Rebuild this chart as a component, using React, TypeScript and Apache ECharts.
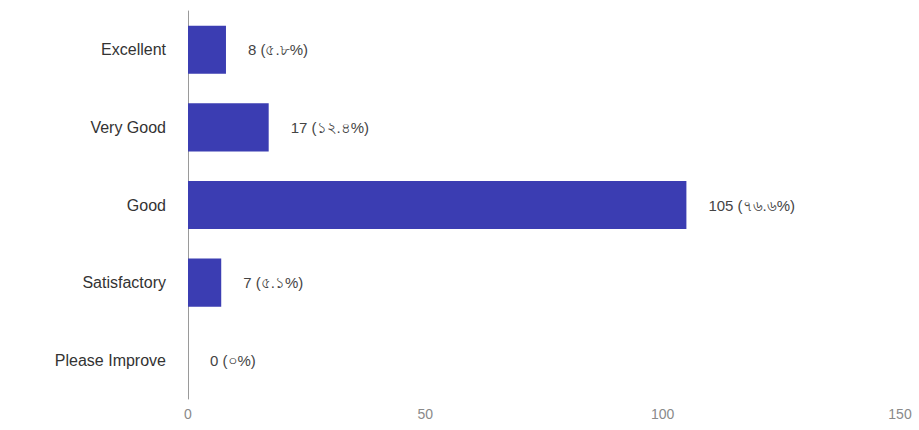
import React, { useEffect, useRef } from "react";
import * as echarts from "echarts";

const categories = ["Excellent", "Very Good", "Good", "Satisfactory", "Please Improve"];
const counts = [8, 17, 105, 7, 0];
const percentLabels = ["৫.৮%", "১২.৪%", "৭৬.৬%", "৫.১%", "০%"];
const xTicks = [0, 50, 100, 150];

export default function App() {
  const ref = useRef<HTMLDivElement>(null);
  useEffect(() => {
    document.body.style.margin = "0";
    const chart = echarts.init(ref.current!, null, { renderer: "svg" });
    chart.setOption({
      animation: false,
      backgroundColor: "#ffffff",
      grid: { left: 188, right: 19, top: 11, bottom: 31, containLabel: false },
      xAxis: {
        type: "value",
        min: xTicks[0],
        max: xTicks[xTicks.length - 1],
        interval: 50,
        axisLine: { show: false },
        axisTick: { show: false },
        splitLine: { show: false },
        axisLabel: {
          color: "#8a8a8a",
          fontFamily: "Liberation Sans, Arial, sans-serif",
          fontSize: 14,
          margin: 8,
        },
      },
      yAxis: {
        type: "category",
        inverse: true,
        data: categories,
        axisLine: { show: true, lineStyle: { color: "#9a9a9a", width: 1 } },
        axisTick: { show: false },
        axisLabel: {
          color: "#333333",
          fontFamily: "Liberation Sans, Arial, sans-serif",
          fontSize: 16,
          margin: 22,
        },
      },
      series: [
        {
          type: "bar",
          data: counts,
          barWidth: "62%",
          itemStyle: { color: "#3b3db2" },
          label: {
            show: true,
            position: "right",
            distance: 22,
            color: "#444444",
            fontFamily: "Liberation Sans, Noto Sans, Arial, sans-serif",
            fontSize: 15,
            formatter: (p: any) => `${counts[p.dataIndex]} (${percentLabels[p.dataIndex]})`,
          },
        },
      ],
    });
    return () => chart.dispose();
  }, []);
  return <div ref={ref} style={{ width: 919, height: 430 }} />;
}
